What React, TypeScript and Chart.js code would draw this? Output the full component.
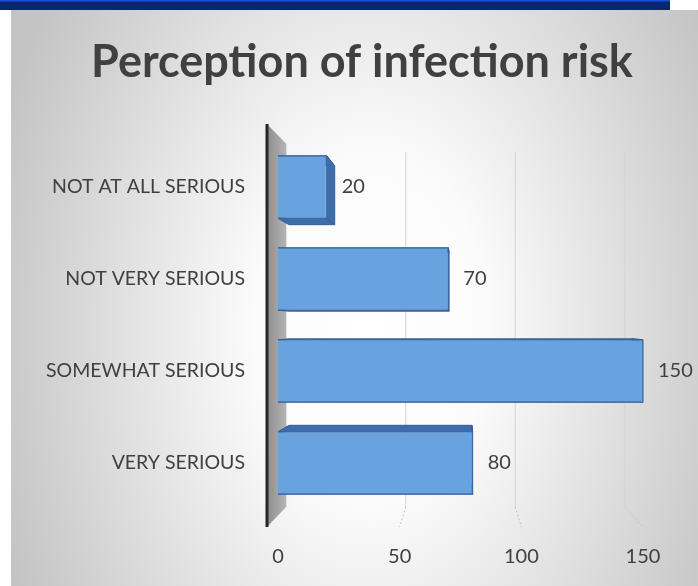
import React, { useEffect, useRef } from 'react';
import { Chart, registerables } from 'chart.js';
Chart.register(...registerables);

const categories = ['NOT AT ALL SERIOUS', 'NOT VERY SERIOUS', 'SOMEWHAT SERIOUS', 'VERY SERIOUS'];
const values = [20, 70, 150, 80];
const xMin = 0;
const xMax = 150;
const xStep = 50;
const titleText = 'Perception of infection risk';

const W = 698;
const H = 586;
const FONT = 'Lato, "Open Sans", sans-serif';
const TEXT = '#404040';

export default function App() {
  const ref = useRef<HTMLCanvasElement>(null);

  useEffect(() => {
    document.body.style.margin = '0';
    const canvas = ref.current!;

    const bgPlugin = {
      id: 'bg',
      beforeDraw(chart: any) {
        const ctx = chart.ctx as CanvasRenderingContext2D;
        ctx.save();
        ctx.fillStyle = '#ffffff';
        ctx.fillRect(0, 0, W, H);
        // panel with radial gradient
        ctx.save();
        ctx.beginPath();
        ctx.rect(11, 10, W - 11, H - 10);
        ctx.clip();
        ctx.translate(370, 330);
        ctx.scale(1, 1.5);
        const g = ctx.createRadialGradient(0, 0, 0, 0, 0, 390);
        g.addColorStop(0, '#ffffff');
        g.addColorStop(0.3, '#fbfbfb');
        g.addColorStop(1, '#c4c4c4');
        ctx.fillStyle = g;
        ctx.fillRect(-400, -400, 800, 800);
        ctx.restore();
        // top band
        ctx.fillStyle = '#0a2670';
        ctx.fillRect(0, 0, 670, 10);
        ctx.fillStyle = '#1a4fd8';
        ctx.fillRect(0, 0, 670, 1.5);
        // title
        ctx.fillStyle = TEXT;
        ctx.font = `bold 45px ${FONT}`;
        ctx.textAlign = 'center';
        ctx.textBaseline = 'middle';
        ctx.fillText(titleText, W / 2 + 13, 62);
        ctx.restore();
      },
    };

    const depthPlugin = {
      id: 'depth',
      beforeDatasetsDraw(chart: any) {
        const ctx = chart.ctx as CanvasRenderingContext2D;
        const ca = chart.chartArea;
        const xs = chart.scales.x;
        const vp = { x: (ca.left + ca.right) / 2, y: (ca.top + ca.bottom) / 2 };
        const back = (x: number, y: number, t: number) => [x + t * (vp.x - x), y + t * (vp.y - y)];
        const wx = ca.left - 11;
        const wTop = ca.top - 17;
        const wBot = ca.bottom + 18;
        ctx.save();
        // grid lines in back plane + floor lines
        xs.ticks.forEach((tk: any) => {
          if (tk.value === 0) return;
          const fx = xs.getPixelForValue(tk.value);
          const [bx, by1] = back(fx, wTop, 0.1);
          const [, by2] = back(fx, wBot, 0.1);
          ctx.strokeStyle = '#d3d3d3';
          ctx.lineWidth = 1;
          ctx.setLineDash([]);
          ctx.beginPath();
          ctx.moveTo(bx, by1 + 8);
          ctx.lineTo(bx, by2);
          ctx.stroke();
          ctx.setLineDash([2, 2]);
          ctx.strokeStyle = '#c4c4c4';
          ctx.beginPath();
          ctx.moveTo(bx, by2);
          ctx.lineTo(fx, wBot);
          ctx.stroke();
        });
        ctx.setLineDash([]);
        // side wall
        const [btx, bty] = back(wx, wTop, 0.1);
        const [bbx, bby] = back(wx, wBot, 0.1);
        const wg = ctx.createLinearGradient(wx, 0, btx, 0);
        wg.addColorStop(0, '#8e8e8e');
        wg.addColorStop(1, '#b4b4b4');
        ctx.fillStyle = wg;
        ctx.beginPath();
        ctx.moveTo(wx, wTop);
        ctx.lineTo(btx, bty);
        ctx.lineTo(bbx, bby);
        ctx.lineTo(wx, wBot);
        ctx.closePath();
        ctx.fill();
        ctx.strokeStyle = '#262626';
        ctx.lineWidth = 3;
        ctx.beginPath();
        ctx.moveTo(wx, wTop);
        ctx.lineTo(wx, wBot);
        ctx.stroke();
        // bar side faces
        const meta = chart.getDatasetMeta(0);
        meta.data.forEach((el: any) => {
          const l = el.base;
          const r = el.x;
          const t = el.y - el.height / 2;
          const b = el.y + el.height / 2;
          const d = 0.06;
          const [rtx, rty] = back(r, t, d);
          const [rbx, rby] = back(r, b, d);
          const [ltx, lty] = back(l, t, d);
          const [lbx, lby] = back(l, b, d);
          ctx.fillStyle = '#3d6eab';
          ctx.strokeStyle = '#335f96';
          ctx.lineWidth = 1;
          const faces = [
            [[l, t], [r, t], [rtx, rty], [ltx, lty]],
            [[l, b], [r, b], [rbx, rby], [lbx, lby]],
            [[r, t], [r, b], [rbx, rby], [rtx, rty]],
          ];
          faces.forEach((f) => {
            ctx.beginPath();
            ctx.moveTo(f[0][0], f[0][1]);
            for (let i = 1; i < f.length; i++) ctx.lineTo(f[i][0], f[i][1]);
            ctx.closePath();
            ctx.fill();
            ctx.stroke();
          });
        });
        ctx.restore();
      },
      afterDatasetsDraw(chart: any) {
        const ctx = chart.ctx as CanvasRenderingContext2D;
        const meta = chart.getDatasetMeta(0);
        ctx.save();
        ctx.fillStyle = TEXT;
        ctx.font = `20px ${FONT}`;
        ctx.textAlign = 'left';
        ctx.textBaseline = 'middle';
        meta.data.forEach((el: any, i: number) => {
          ctx.fillText(String(values[i]), el.x + 15, el.y);
        });
        ctx.restore();
      },
    };

    const chart = new Chart(canvas, {
      type: 'bar',
      data: {
        labels: categories,
        datasets: [
          {
            data: values,
            backgroundColor: '#68a3df',
            borderColor: '#4176b6',
            borderWidth: 1,
            barPercentage: 0.68,
            categoryPercentage: 1,
          },
        ],
      },
      options: {
        indexAxis: 'y',
        responsive: false,
        animation: false,
        devicePixelRatio: 1,
        layout: { padding: { top: 141, right: 55, bottom: 20, left: 0 } },
        plugins: {
          legend: { display: false },
          tooltip: { enabled: false },
          title: { display: false },
        },
        scales: {
          x: {
            type: 'linear',
            min: xMin,
            max: xMax,
            ticks: { stepSize: xStep, color: TEXT, font: { family: FONT, size: 20 }, padding: 36 },
            grid: { display: false, drawTicks: false },
            border: { display: false },
            afterFit(s: any) {
              s.height = 57;
            },
          },
          y: {
            ticks: { color: TEXT, font: { family: FONT, size: 19.5 }, padding: 33 },
            grid: { display: false, drawTicks: false },
            border: { display: false },
            afterFit(s: any) {
              s.width = 278;
            },
          },
        },
      },
      plugins: [bgPlugin, depthPlugin],
    } as any);

    return () => chart.destroy();
  }, []);

  return (
    <div style={{ position: 'absolute', left: 0, top: 0, width: W, height: H }}>
      <canvas ref={ref} width={W} height={H} style={{ display: 'block' }} />
    </div>
  );
}
